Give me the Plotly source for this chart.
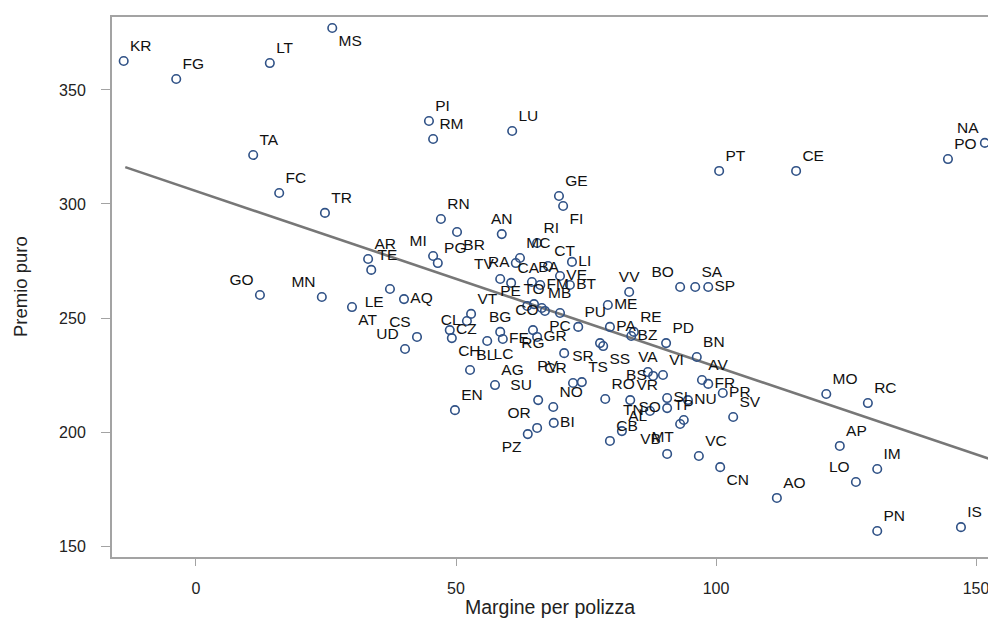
import plotly.graph_objects as go

# --- data ---
codes = ["KR", "FG", "LT", "MS", "TA", "FC", "TR", "PI", "RM", "LU",
         "PT", "CE", "PO", "NA", "GE", "FI", "RN", "BR", "AN", "RI",
         "AR", "TE", "MI", "PG", "MC", "RA", "TV", "CA", "BA", "CT",
         "LI", "VE", "FM", "BT", "VV", "BO", "SA", "SP", "GO", "MN",
         "AT", "LE", "AQ", "CS", "UD", "VT", "CL", "CZ", "CH", "BL",
         "LC", "BG", "FE", "RG", "GR", "PC", "PE", "TO", "MB", "CO",
         "ME", "PU", "PA", "RE", "BZ", "PD", "BN", "PV", "SR", "SS",
         "AG", "CR", "TS", "VA", "VI", "BS", "AV", "FR", "RO", "VR",
         "SU", "NO", "PR", "SI", "NU", "SV", "EN", "TN", "SO", "TP",
         "MT", "MO", "RC", "AL", "CB", "VB", "OR", "BI", "PZ", "VC",
         "CN", "AP", "IM", "LO", "AO", "PN", "IS"]

margine = [-13.9, -3.8, 14.2, 26.2, 11.0, 16.0, 24.8, 44.8, 45.6, 60.8,
           100.6, 115.4, 144.6, 151.7, 69.8, 70.6, 47.1, 50.2, 58.8, 65.6,
           33.1, 33.7, 45.6, 46.5, 62.3, 61.5, 58.5, 60.6, 64.6, 67.7,
           72.3, 70.0, 66.2, 71.9, 83.3, 93.1, 96.0, 98.5, 12.3, 24.2,
           30.0, 37.3, 40.0, 42.5, 40.2, 52.9, 52.1, 48.8, 49.2, 52.7,
           56.0, 58.5, 59.0, 64.8, 65.6, 70.0, 63.7, 65.0, 66.5, 67.1,
           79.2, 73.5, 79.6, 84.2, 83.7, 90.4, 96.3, 70.8, 77.7, 78.3,
           57.5, 72.5, 74.2, 86.9, 89.8, 87.9, 97.3, 98.5, 78.7, 83.5,
           65.8, 68.7, 101.3, 90.6, 94.6, 103.3, 49.8, 87.3, 90.6, 93.8,
           93.1, 121.2, 129.2, 81.9, 79.6, 90.6, 65.6, 68.8, 63.8, 96.7,
           100.8, 123.8, 131.0, 126.9, 111.7, 131.0, 147.1]

premio = [362.7, 354.8, 361.8, 377.2, 321.5, 304.8, 296.1, 336.4, 328.5, 332.0,
          314.5, 314.5, 319.7, 326.8, 303.5, 299.1, 293.4, 287.7, 286.8, 282.9,
          275.9, 271.1, 277.2, 274.1, 276.3, 274.1, 267.1, 265.4, 265.8, 272.8,
          274.6, 268.4, 264.5, 264.5, 261.4, 263.6, 263.6, 263.6, 260.1, 259.2,
          254.8, 262.7, 258.3, 241.7, 236.4, 251.8, 248.7, 244.7, 241.2, 227.2,
          239.9, 243.9, 240.8, 244.7, 241.7, 252.2, 255.3, 256.1, 254.4, 253.1,
          255.7, 246.1, 246.1, 243.9, 242.1, 239.0, 232.9, 234.6, 239.0, 237.7,
          220.6, 221.5, 221.9, 226.3, 225.0, 224.6, 222.8, 221.1, 214.5, 214.0,
          214.0, 211.0, 217.1, 214.9, 214.0, 206.6, 209.6, 209.2, 210.5, 205.3,
          203.5, 216.7, 212.7, 200.4, 196.1, 190.4, 201.8, 204.0, 199.1, 189.5,
          184.6, 193.9, 183.8, 178.1, 171.1, 156.6, 158.3]

# fitted line: premio = intercept + slope * margine
fit_intercept = 305.7
fit_slope = -0.77
fit_x = [-13.6, 152.4]

x_ticks = [0, 50, 100, 150]
y_ticks = [150, 200, 250, 300, 350]

# --- label placement (style) ---
default_pos = "top right"
label_pos = {
    "MS": "bottom right", "FI": "bottom right", "NA": "top left",
    "MI": "top left", "GO": "top left", "MN": "top left",
    "AT": "bottom right", "LE": "bottom left", "AQ": "middle right",
    "CS": "top left", "UD": "top left", "BR": "bottom right",
    "AN": "top center", "RA": "middle left", "TV": "top left",
    "VE": "middle right", "FM": "middle right", "BT": "middle right",
    "LI": "middle right", "VV": "top center", "BO": "top left",
    "SP": "middle right", "TO": "top center", "PE": "top left",
    "CO": "middle left", "PC": "bottom center", "RG": "bottom center",
    "GR": "middle right", "FE": "middle right", "BG": "top center",
    "LC": "bottom right", "CL": "middle left", "CZ": "middle right",
    "CH": "bottom right", "ME": "middle right", "PA": "middle right",
    "BZ": "middle right", "PV": "bottom left", "SR": "bottom left",
    "SS": "bottom right", "CR": "top left", "SU": "top left",
    "BS": "middle left", "VA": "top center", "FR": "middle right",
    "PR": "middle right", "SI": "middle right", "NU": "middle right",
    "TN": "middle left", "SO": "middle left", "TP": "top center",
    "MT": "bottom left", "VB": "top left", "OR": "top left",
    "PZ": "bottom left", "BI": "middle right", "CN": "bottom right",
    "LO": "top left",
}
positions = [label_pos.get(c, default_pos) for c in codes]

FONT = "Liberation Sans, Arial, Helvetica, sans-serif"
AXIS_COLOR = "#a3a3a3"

fig = go.Figure()

fig.add_trace(go.Scatter(
    x=fit_x,
    y=[fit_intercept + fit_slope * v for v in fit_x],
    mode="lines",
    line=dict(color="#777777", width=2.6),
    hoverinfo="skip",
    showlegend=False,
))

fig.add_trace(go.Scatter(
    x=margine, y=premio, text=codes,
    mode="markers+text",
    textposition=positions,
    textfont=dict(family=FONT, size=15.5, color="#111111"),
    marker=dict(symbol="circle-open", size=8.5, color="#2f5186",
                line=dict(width=1.6, color="#2f5186")),
    showlegend=False,
))

fig.update_layout(
    width=988, height=618, autosize=False,
    margin=dict(l=112, r=0, t=17, b=61),
    paper_bgcolor="white", plot_bgcolor="white",
    font=dict(family=FONT, color="#222222"),
    xaxis=dict(
        range=[-16.15, 152.3], tickvals=x_ticks,
        showgrid=False, zeroline=False,
        showline=True, linecolor=AXIS_COLOR, linewidth=2, mirror=True,
        ticks="outside", ticklen=7, tickcolor=AXIS_COLOR, tickwidth=1,
        ticklabelstandoff=9, ticklabeloverflow="allow",
        tickfont=dict(family=FONT, size=16, color="#222222"),
    ),
    yaxis=dict(
        range=[145.2, 382.0], tickvals=y_ticks,
        showgrid=False, zeroline=False,
        showline=True, linecolor=AXIS_COLOR, linewidth=2,
        ticks="outside", ticklen=9, tickcolor=AXIS_COLOR, tickwidth=1,
        ticklabelstandoff=12, ticklabeloverflow="allow",
        tickfont=dict(family=FONT, size=16, color="#222222"),
    ),
    annotations=[
        dict(text="Premio puro", xref="paper", yref="paper",
             x=-0.105, y=0.5, xanchor="center", yanchor="middle",
             textangle=-90, showarrow=False,
             font=dict(family=FONT, size=18.5, color="#222222")),
        dict(text="Margine per polizza", xref="paper", yref="paper",
             x=0.5, y=-0.0926, xanchor="center", yanchor="middle",
             showarrow=False,
             font=dict(family=FONT, size=19.5, color="#222222")),
    ],
)

fig.write_html(
    "out.html",
    config={"displayModeBar": False},
    post_script="document.body.style.margin='0';document.body.style.overflow='hidden';",
)
